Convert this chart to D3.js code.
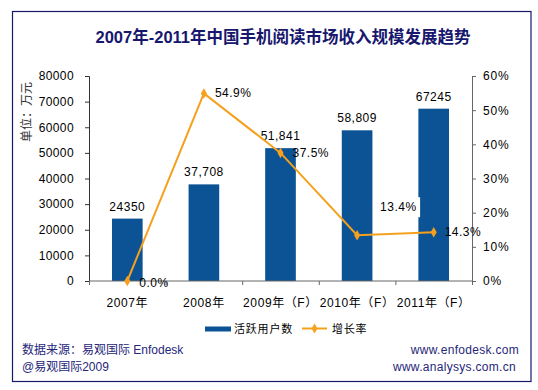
<!DOCTYPE html>
<html><head><meta charset="utf-8">
<script src="https://cdn.jsdelivr.net/npm/d3@7"></script>
<style>
body{margin:0;background:#fff;}
text{font-family:"Liberation Sans",Arial,"Noto Sans CJK SC",sans-serif;}
</style></head>
<body><svg id="c" width="538" height="390"></svg>
<script>
const categories = ["2007年","2008年","2009年（F）","2010年（F）","2011年（F）"];
const revenue = [24350, 37708, 51841, 58809, 67245];
const revenueLabels = ["24350","37,708","51,841","58,809","67245"];
const growth = [0.0, 54.9, 37.5, 13.4, 14.3];
const growthLabels = ["0.0%","54.9%","37.5%","13.4%","14.3%"];
const leftTicks = [0,10000,20000,30000,40000,50000,60000,70000,80000];
const rightTicks = [0,10,20,30,40,50,60];

const svg = d3.select("#c");
const barColor = "#0B5394", lineColor = "#F5A01E", navy = "#17176E";
const L = 89, R = 472, T = 76, B = 281;

svg.append("rect").attr("x",12.5).attr("y",11.5).attr("width",518.5).attr("height",370)
  .attr("fill","#fff").attr("stroke",navy).attr("stroke-width",1.2);

svg.append("text").attr("x",283).attr("y",43).attr("text-anchor","middle")
  .attr("font-size",16.5).attr("font-weight","bold").attr("fill",navy)
  .text("2007年-2011年中国手机阅读市场收入规模发展趋势");

const x = d3.scaleBand().domain(categories).range([L,R]).paddingInner(0.6).paddingOuter(0.3);
const y = d3.scaleLinear().domain([0,80000]).range([B,T]);
const y2 = d3.scaleLinear().domain([0,60]).range([B,T]);

// bars
svg.selectAll(".bar").data(revenue).enter().append("rect")
  .attr("x",(d,i)=>x(categories[i])).attr("y",d=>y(d))
  .attr("width",x.bandwidth()).attr("height",d=>B-y(d)).attr("fill",barColor);

// left axis
const gl = svg.append("g").attr("transform",`translate(${L},0)`)
  .call(d3.axisLeft(y).tickValues(leftTicks).tickSize(4).tickPadding(11).tickFormat(d3.format("d")));
gl.select(".domain").attr("stroke","#333");
gl.selectAll(".tick line").attr("stroke","#333");
gl.selectAll("text").attr("font-size",12).attr("fill","#000").attr("letter-spacing",0.4);

// right axis
const gr = svg.append("g").attr("transform",`translate(${R},0)`)
  .call(d3.axisRight(y2).tickValues(rightTicks).tickSize(4).tickPadding(7).tickFormat(d=>d+"%"));
gr.select(".domain").attr("stroke","#666");
gr.selectAll(".tick line").attr("stroke","#666");
gr.selectAll("text").attr("font-size",12).attr("fill","#000").attr("letter-spacing",0.8);

// bottom axis
const xb = d3.scalePoint().domain(d3.range(categories.length+1)).range([L,R]);
const gb = svg.append("g").attr("transform",`translate(0,${B})`)
  .call(d3.axisBottom(xb).tickSize(4).tickFormat(""));
gb.select(".domain").attr("stroke","#666").attr("d",`M${L},0H${R}`);
gb.selectAll(".tick line").attr("stroke","#666");
svg.selectAll(".xl").data(categories).enter().append("text")
  .attr("x",d=>x(d)+x.bandwidth()/2).attr("y",307).attr("text-anchor","middle")
  .attr("font-size",12).attr("letter-spacing",0.6).attr("fill","#000").text(d=>d);

// y title
svg.append("text").attr("transform","translate(31,112) rotate(-90)")
  .attr("text-anchor","middle").attr("font-size",12).attr("fill","#333")
  .style("font-family","'Noto Sans CJK SC',serif").text("单位：万元");

// bar labels
svg.selectAll(".bl").data(revenue).enter().append("text")
  .attr("x",(d,i)=>x(categories[i])+x.bandwidth()/2).attr("y",d=>y(d)-8)
  .attr("text-anchor","middle").attr("font-size",12).attr("letter-spacing",0.5).attr("fill","#000")
  .text((d,i)=>revenueLabels[i]);

// line
const cx = (i)=>x(categories[i])+x.bandwidth()/2;
const line = d3.line().x((d,i)=>cx(i)).y(d=>y2(d));
svg.append("path").datum(growth).attr("d",line).attr("fill","none")
  .attr("stroke",lineColor).attr("stroke-width",2);
svg.selectAll(".pt").data(growth).enter().append("path")
  .attr("d",d3.symbol().type(d3.symbolDiamond).size(32))
  .attr("transform",(d,i)=>`translate(${cx(i)},${y2(d)})`).attr("fill",lineColor);

// growth labels
const off = [[12,6],[11,4],[12,4],[23,-24],[11,4]];
growth.forEach((d,i)=>{
  const tx = cx(i)+off[i][0], ty = y2(d)+off[i][1];
  if(i===3){
    svg.append("rect").attr("x",tx-2).attr("y",ty-14).attr("width",42).attr("height",20).attr("fill","#fff");
  }
  svg.append("text").attr("x",tx).attr("y",ty).attr("font-size",12).attr("letter-spacing",0.5)
    .attr("fill","#000").text(growthLabels[i]);
});

// legend
svg.append("rect").attr("x",205).attr("y",326.5).attr("width",26).attr("height",5).attr("fill",barColor);
svg.append("text").attr("x",234).attr("y",333).attr("font-size",11).attr("letter-spacing",0.8)
  .attr("fill","#000").text("活跃用户数");
svg.append("line").attr("x1",302).attr("x2",327).attr("y1",328.5).attr("y2",328.5)
  .attr("stroke",lineColor).attr("stroke-width",2);
svg.append("path").attr("d",d3.symbol().type(d3.symbolDiamond).size(28)())
  .attr("transform","translate(314.5,328.5)").attr("fill",lineColor);
svg.append("text").attr("x",332).attr("y",333).attr("font-size",11).attr("letter-spacing",0.8)
  .attr("fill","#000").text("增长率");

// footer
const fc = "#26267A";
svg.append("text").attr("x",22).attr("y",354).attr("font-size",12).attr("fill",fc).text("数据来源：易观国际 Enfodesk");
svg.append("text").attr("x",22).attr("y",371).attr("font-size",12).attr("fill",fc).text("@易观国际2009");
svg.append("text").attr("x",519).attr("y",354).attr("text-anchor","end").attr("font-size",12).attr("letter-spacing",0.3).attr("fill",fc).text("www.enfodesk.com");
svg.append("text").attr("x",516).attr("y",371).attr("text-anchor","end").attr("font-size",12).attr("letter-spacing",0.3).attr("fill",fc).text("www.analysys.com.cn");
</script></body></html>
